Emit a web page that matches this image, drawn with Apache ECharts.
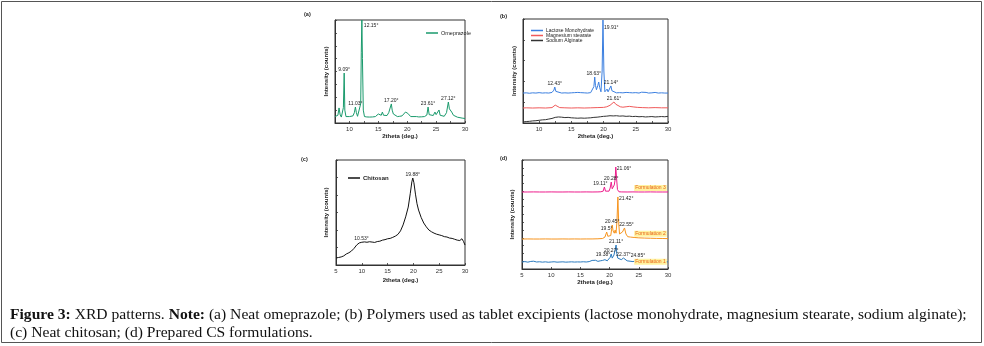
<!DOCTYPE html>
<html><head><meta charset="utf-8">
<script src="https://cdn.jsdelivr.net/npm/echarts@6/dist/echarts.min.js"></script>
<style>html,body{margin:0;padding:0;background:#fff}#c{width:984px;height:346px}</style>
</head><body><div id="c"></div>
<script>
// ---------- DATA ----------
const xTicksAB = [10, 15, 20, 25, 30];
const omeprazole = [[7.5,0.5],[7.8,0.48],[8.0,0.6],[8.2,1.17],[8.4,0.62],[8.6,0.46],[8.8,0.5],[8.95,1.2],[9.09,3.88],[9.2,1.0],[9.4,0.5],[9.7,0.47],[10.0,0.5],[10.3,0.48],[10.6,0.55],[10.85,0.8],[11.03,1.24],[11.2,0.8],[11.4,0.52],[11.7,0.5],[11.95,1.5],[12.05,5.5],[12.15,8.0],[12.25,5.0],[12.4,1.0],[12.6,0.5],[13.0,0.47],[13.5,0.46],[14.0,0.47],[14.5,0.5],[14.8,0.58],[15.0,0.70],[15.2,0.55],[15.5,0.6],[15.7,0.85],[15.9,0.6],[16.2,0.52],[16.5,0.58],[16.8,0.8],[16.95,0.93],[17.1,0.85],[17.25,1.48],[17.4,1.0],[17.6,0.7],[17.9,0.55],[18.3,0.5],[18.7,0.52],[19.1,0.55],[19.4,0.65],[19.7,0.85],[19.9,0.82],[20.1,0.75],[20.3,0.6],[20.6,0.5],[21.0,0.5],[21.3,0.62],[21.6,0.5],[22.0,0.47],[22.5,0.48],[23.0,0.5],[23.4,0.62],[23.61,1.24],[23.8,0.65],[24.1,0.52],[24.5,0.58],[24.8,0.85],[25.0,0.65],[25.25,0.6],[25.5,1.01],[25.7,0.6],[26.0,0.5],[26.4,0.52],[26.8,0.8],[27.12,1.63],[27.3,1.1],[27.5,1.0],[27.7,0.85],[28.0,0.6],[28.3,0.5],[28.7,0.45],[29.0,0.4],[29.5,0.38],[30.0,0.35]];
const omeprazolePeaks = [[9.09,3.88,'9.09°'],[11.03,1.24,'11.03°'],[12.15,7.7,'12.15°'],[17.25,1.48,'17.20°'],[23.61,1.24,'23.61°'],[27.12,1.63,'27.12°']];

const lactose = [[7.5,1.44],[8,1.45],[8.5,1.43],[9,1.45],[9.5,1.44],[10,1.46],[10.5,1.44],[11,1.45],[11.5,1.44],[12,1.47],[12.3,1.58],[12.43,1.73],[12.6,1.52],[12.9,1.45],[13.5,1.44],[14,1.45],[14.5,1.44],[15,1.45],[15.5,1.46],[16,1.47],[16.25,1.54],[16.45,1.46],[17,1.45],[17.5,1.44],[18,1.46],[18.3,1.5],[18.5,1.75],[18.63,2.21],[18.75,1.8],[18.9,1.6],[19.1,1.8],[19.25,1.97],[19.4,1.7],[19.6,1.5],[19.78,2.5],[19.91,4.95],[20.05,2.5],[20.2,1.5],[20.4,1.55],[20.55,1.63],[20.7,1.5],[20.9,1.55],[21.14,1.78],[21.3,1.55],[21.6,1.47],[22,1.45],[22.5,1.46],[23,1.45],[23.5,1.47],[23.8,1.54],[24.0,1.46],[24.5,1.45],[25,1.46],[25.5,1.44],[25.9,1.48],[26.2,1.45],[26.6,1.47],[27,1.44],[27.5,1.45],[28,1.47],[28.5,1.44],[29,1.45],[29.5,1.44],[30,1.44]];
const mgStearate = [[7.5,0.72],[8,0.73],[9,0.72],[10,0.73],[11,0.72],[12,0.74],[12.3,0.8],[12.5,0.86],[12.8,0.78],[13.2,0.74],[14,0.73],[15,0.72],[16,0.73],[17,0.72],[18,0.73],[19,0.74],[20,0.75],[20.5,0.78],[21,0.85],[21.3,0.92],[21.61,1.01],[21.9,0.9],[22.2,0.82],[22.6,0.78],[23,0.76],[23.5,0.78],[24,0.8],[24.3,0.82],[24.7,0.77],[25.3,0.75],[26,0.74],[27,0.73],[28,0.74],[29,0.73],[30,0.73]];
const alginate = [[7.5,0.05],[8,0.07],[8.5,0.08],[9,0.1],[9.5,0.11],[10,0.13],[10.5,0.15],[11,0.16],[11.5,0.19],[12,0.22],[12.5,0.27],[13,0.29],[13.5,0.28],[14,0.26],[14.5,0.27],[15,0.25],[15.5,0.24],[16,0.23],[16.5,0.24],[17,0.23],[17.5,0.24],[18,0.25],[18.5,0.27],[19,0.28],[19.5,0.3],[20,0.32],[20.5,0.33],[21,0.35],[21.5,0.34],[22,0.35],[22.5,0.33],[23,0.34],[23.5,0.32],[24,0.33],[24.5,0.31],[25,0.32],[25.5,0.3],[26,0.31],[26.5,0.29],[27,0.3],[27.5,0.31],[28,0.29],[28.5,0.3],[29,0.31],[29.5,0.3],[30,0.32]];
const lactosePeaks = [[12.43,1.73,'12.43°'],[18.63,2.21,'18.63°'],[19.91,4.75,'19.91°'],[21.14,1.78,'21.14°']];
const mgPeaks = [[21.61,1.01,'21.61°']];

const chitosan = [[5,0.40],[5.5,0.43],[6,0.46],[6.5,0.52],[7,0.63],[7.5,0.70],[8,0.80],[8.5,0.95],[9,1.14],[9.5,1.26],[10,1.30],[10.53,1.32],[11,1.30],[11.5,1.33],[12,1.31],[12.5,1.29],[13,1.34],[13.5,1.36],[14,1.42],[14.5,1.45],[15,1.50],[15.5,1.52],[16,1.58],[16.5,1.65],[17,1.75],[17.5,1.95],[18,2.29],[18.5,2.75],[19,3.31],[19.4,4.1],[19.7,4.75],[19.88,4.97],[20.1,4.7],[20.4,4.05],[20.7,3.5],[21,3.14],[21.5,2.72],[22,2.4],[22.5,2.18],[23,2.0],[23.5,1.9],[24,1.82],[24.5,1.76],[25,1.72],[25.5,1.68],[26,1.62],[26.5,1.6],[27,1.54],[27.5,1.52],[28,1.47],[28.5,1.42],[29,1.40],[29.4,1.50],[29.7,1.35],[30,1.14]];
const chitosanPeaks = [[10.53,1.32,'10.53°'],[19.88,4.97,'19.88°']];

const form3 = [[5,9.89],[6,9.89],[7,9.9],[8,9.89],[9,9.89],[10,9.9],[11,9.89],[12,9.89],[13,9.9],[14,9.89],[15,9.89],[16,9.9],[17,9.89],[18,9.9],[18.5,9.92],[18.9,10.0],[19.11,10.53],[19.3,10.0],[19.6,9.92],[19.9,10.0],[20.1,10.4],[20.28,11.17],[20.45,10.3],[20.6,10.2],[20.8,10.79],[20.95,11.5],[21.06,13.1],[21.2,11.6],[21.35,10.2],[21.6,9.92],[22,9.9],[23,9.89],[24,9.9],[25,9.89],[26,9.89],[27,9.9],[28,9.89],[29,9.89],[30,9.89]];
const form2 = [[5,3.85],[6,3.86],[7,3.85],[8,3.85],[9,3.86],[10,3.85],[11,3.85],[12,3.86],[13,3.85],[14,3.86],[15,3.85],[16,3.86],[17,3.86],[18,3.88],[18.8,3.92],[19.2,4.1],[19.5,4.75],[19.7,4.2],[19.9,4.05],[20.2,4.3],[20.45,5.65],[20.6,4.9],[20.8,4.6],[20.95,5.0],[21.1,4.6],[21.25,6.0],[21.42,9.25],[21.55,6.0],[21.7,4.5],[21.9,4.3],[22.2,4.75],[22.55,5.27],[22.8,4.5],[23.1,4.15],[23.6,4.1],[24.2,4.05],[25,4.0],[26,3.97],[27,3.95],[28,3.93],[29,3.92],[30,3.9]];
const form1 = [[5,0.9],[5.5,0.95],[6,0.88],[6.5,0.97],[7,1.0],[7.5,0.9],[8,0.93],[8.5,0.88],[9,0.92],[9.5,0.87],[10,0.9],[10.5,0.93],[11,0.88],[11.5,0.9],[12,0.92],[12.5,0.88],[13,0.9],[13.5,0.92],[14,0.89],[14.5,0.91],[15,0.9],[15.5,0.93],[16,0.9],[16.5,0.95],[17,1.1],[17.3,0.98],[17.6,1.12],[18,0.98],[18.4,1.05],[18.8,1.1],[19.2,1.2],[19.38,1.35],[19.6,1.05],[19.9,1.2],[20.1,1.5],[20.27,1.93],[20.45,1.4],[20.6,1.5],[20.75,1.8],[20.9,1.6],[21.11,3.08],[21.25,1.9],[21.4,1.4],[21.7,1.15],[22.0,1.2],[22.2,1.3],[22.37,1.41],[22.6,1.2],[23.0,1.05],[23.5,1.0],[24.0,0.95],[24.5,1.05],[24.85,1.28],[25.1,1.0],[25.5,0.92],[26,0.95],[27,0.9],[28,0.93],[29,0.9],[30,0.92]];
const form3Peaks = [[19.11,10.53,'19.11°'],[20.28,11.17,'20.28°'],[21.06,13.1,'21.06°']];
const form2Peaks = [[19.5,4.75,'19.5°'],[20.45,5.65,'20.45°'],[21.42,9.25,'21.42°'],[22.55,5.27,'22.55°']];
const form1Peaks = [[19.38,1.35,'19.38°'],[20.27,1.93,'20.27°'],[21.11,3.08,'21.11°'],[22.37,1.41,'22.37°'],[24.85,1.28,'24.85°']];
const formNames = ['Formulation 1','Formulation 2','Formulation 3'];

// ---------- STYLE / LAYOUT ----------
const SANS = 'Liberation Sans, Arial, sans-serif';
const SERIF = 'Liberation Serif, Times New Roman, serif';
const rightLabels = {'12.15°':[2,2],'19.91°':[1,3],'21.06°':[1,2],'21.42°':[1,2]};
const labelOffsets = {'19.11°':[-4,0],'18.63°':[-1,0],'10.53°':[-3,0],'19.38°':[-3,0],'22.55°':[2,0]};
const tagX = 27.0;
const tagOffsets = [[0,0],[0,-5],[0,-4]];

const chart = echarts.init(document.getElementById('c'), null, {renderer:'canvas'});

const grids = [
  {left:335, top:20, width:130, height:103},
  {left:523, top:19, width:145, height:104},
  {left:336, top:160, width:129, height:105},
  {left:522, top:160, width:146, height:109}
].map(g => Object.assign({show:true, borderColor:'#333', borderWidth:1, containLabel:false}, g));

function xAx(gi, min, gap) {
  return {type:'value', gridIndex:gi, min:min, max:30, interval: min === 7.5 ? 2.5 : 5,
    name:'2theta (deg.)', nameLocation:'middle', nameGap:gap,
    nameTextStyle:{fontSize:6, fontWeight:'bold', fontFamily:SANS, color:'#222'},
    axisLine:{show:true, lineStyle:{color:'#333', width:1}},
    axisTick:{show:true, inside:true, length:2, lineStyle:{color:'#333', width:0.8}},
    axisLabel:{fontSize:6, color:'#333', margin:3, fontFamily:SANS,
      formatter: v => (xTicksAB.indexOf(v) >= 0 || (min === 5 && v === 5)) ? String(v) : ''},
    splitLine:{show:false}};
}
function yAx(gi, max, gap) {
  return {type:'value', gridIndex:gi, min:0, max:max, interval:1,
    name:'Intensity (counts)', nameLocation:'middle', nameGap:gap, nameRotate:90,
    nameTextStyle:{fontSize:6, fontWeight:'bold', fontFamily:SANS, color:'#222'},
    axisLine:{show:true, lineStyle:{color:'#333', width:1}},
    axisTick:{show:true, inside:true, length:2, lineStyle:{color:'#333', width:0.8}},
    axisLabel:{show:false}, splitLine:{show:false}};
}

function marks(peaks) {
  return {symbol:'circle', symbolSize:0, silent:true, animation:false,
    data: peaks.map(p => {
      const r = rightLabels[p[2]];
      const off = labelOffsets[p[2]] || [0,0];
      return {coord:[p[0], p[1]], value:p[2],
        label:{show:true, formatter:p[2], position: r ? 'right' : 'top',
          distance: r ? r[0] : 1, offset: r ? [0, r[1]] : off,
          fontSize:5, color:'#222', fontFamily:SANS}};
    })};
}
function tagItem(data, text, off) {
  return {coord:[tagX, data[data.length-1][1]], value:text,
    label:{show:true, formatter:text, position:'inside', offset:off, fontSize:5,
      color:'#e8641a', backgroundColor:'#fff3a0', padding:[0.5,1], fontFamily:SANS}};
}
function line(name, data, xi, color, mp) {
  const s = {type:'line', name:name, xAxisIndex:xi, yAxisIndex:xi, data:data,
    showSymbol:false, symbol:'none', smooth:false, lineStyle:{color:color, width:1}, itemStyle:{color:color},
    clip:true, animation:false};
  if (mp) s.markPoint = mp;
  return s;
}
function withTag(peaks, data, i) {
  const m = marks(peaks);
  m.data.push(tagItem(data, formNames[i], tagOffsets[i]));
  return m;
}

const series = [
  line('Omeprazole', omeprazole, 0, '#1a9a6c', marks(omeprazolePeaks)),
  line('Sodium Alginate', alginate, 1, '#333333'),
  line('Magnesium stearate', mgStearate, 1, '#f05a5a', marks(mgPeaks)),
  line('Lactose Monohydrate', lactose, 1, '#3b7fe0', marks(lactosePeaks)),
  line('Chitosan', chitosan, 2, '#111111', marks(chitosanPeaks)),
  line(formNames[0], form1, 3, '#2b7bbf', withTag(form1Peaks, form1, 0)),
  line(formNames[1], form2, 3, '#f7941d', withTag(form2Peaks, form2, 1)),
  line(formNames[2], form3, 3, '#ee1c8c', withTag(form3Peaks, form3, 2))
];

const legendBase = {icon:'rect', itemWidth:12, itemHeight:1.5, selectedMode:false,
  textStyle:{fontSize:5, color:'#222', fontFamily:SANS, padding:[0,0,0,-2]}};

const option = {
  animation:false,
  backgroundColor:'#fff',
  grid: grids,
  xAxis: [xAx(0, 7.5, 10), xAx(1, 7.5, 10), xAx(2, 5, 12), xAx(3, 5, 10)],
  yAxis: [yAx(0, 8, 6), yAx(1, 5, 6), yAx(2, 6, 7), yAx(3, 14, 7)],
  legend: [
    Object.assign({}, legendBase, {left:421, top:25, data:['Omeprazole'], textStyle:Object.assign({}, legendBase.textStyle, {fontSize:5.5})}),
    Object.assign({}, legendBase, {left:526, top:23, orient:'vertical', itemGap:0, data:['Lactose Monohydrate','Magnesium stearate','Sodium Alginate']}),
    Object.assign({}, legendBase, {left:343, top:170, data:['Chitosan'], textStyle:Object.assign({}, legendBase.textStyle, {fontSize:6, fontWeight:'bold'})})
  ],
  series: series,
  graphic: [
    {type:'rect', shape:{x:1.5, y:1.5, width:980, height:341}, style:{fill:'none', stroke:'#555', lineWidth:1}, silent:true},
    {type:'text', left:304, top:11, style:{text:'(a)', fontSize:5.5, fontWeight:'bold', fill:'#222', fontFamily:SANS}},
    {type:'text', left:500, top:13, style:{text:'(b)', fontSize:5.5, fontWeight:'bold', fill:'#222', fontFamily:SANS}},
    {type:'text', left:301, top:156, style:{text:'(c)', fontSize:5.5, fontWeight:'bold', fill:'#222', fontFamily:SANS}},
    {type:'text', left:500, top:155, style:{text:'(d)', fontSize:5.5, fontWeight:'bold', fill:'#222', fontFamily:SANS}},
    {type:'text', left:10, top:307, style:{
      text:'{b|Figure 3:} XRD patterns. {b|Note:} (a) Neat omeprazole; (b) Polymers used as tablet excipients (lactose monohydrate, magnesium stearate, sodium alginate);',
      fontSize:15.6, fontFamily:SERIF, fill:'#111',
      rich:{b:{fontWeight:'bold', fontSize:15.6, fontFamily:SERIF, fill:'#111'}}}},
    {type:'text', left:10, top:325, style:{
      text:'(c) Neat chitosan; (d) Prepared CS formulations.',
      fontSize:15.6, fontFamily:SERIF, fill:'#111'}}
  ]
};
chart.setOption(option);
</script></body></html>
